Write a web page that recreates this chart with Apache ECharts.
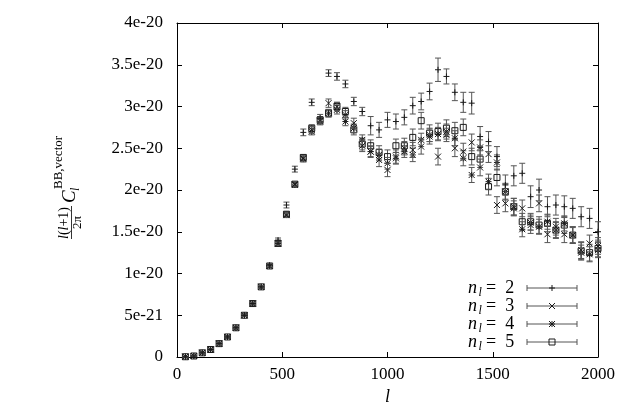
<!DOCTYPE html>
<html>
<head>
<meta charset="utf-8">
<script src="https://cdn.jsdelivr.net/npm/echarts@6/dist/echarts.min.js"></script>
<style>html,body{margin:0;padding:0;background:#fff;}#chart{width:627px;height:417px;}</style>
</head>
<body>
<div id="chart"></div>
<script>
// multipole bins
const ells = [40,80,120,160,200,240,280,320,360,400,440,480,520,560,600,640,680,720,760,800,840,880,920,960,1000,1040,1080,1120,1160,1200,1240,1280,1320,1360,1400,1440,1480,1520,1560,1600,1640,1680,1720,1760,1800,1840,1880,1920,1960,2000];
// values in units of 1e-20
const n2Vals = [0.003,0.012,0.05,0.09,0.16,0.24,0.35,0.50,0.64,0.84,1.10,1.40,1.82,2.25,2.69,3.05,2.86,3.40,3.36,3.27,3.06,2.94,2.77,2.72,2.84,2.82,2.87,3.01,3.06,3.18,3.44,3.36,3.17,3.05,3.04,2.64,2.58,2.40,2.06,2.17,2.20,1.92,2.00,1.80,1.82,1.80,1.78,1.68,1.66,1.50];
const n2Errs = [0.003,0.004,0.005,0.006,0.008,0.01,0.01,0.012,0.014,0.016,0.02,0.025,0.035,0.035,0.04,0.04,0.045,0.04,0.045,0.045,0.05,0.05,0.11,0.09,0.09,0.09,0.09,0.1,0.1,0.1,0.14,0.09,0.1,0.12,0.13,0.12,0.12,0.12,0.12,0.12,0.12,0.13,0.13,0.12,0.12,0.13,0.12,0.12,0.12,0.12];
const n3Vals = [0.003,0.012,0.05,0.09,0.16,0.24,0.35,0.50,0.64,0.84,1.09,1.36,1.70,2.07,2.38,2.72,2.83,3.04,3.00,2.90,2.80,2.53,2.46,2.36,2.24,2.40,2.50,2.48,2.52,2.64,2.40,2.70,2.50,2.46,2.57,2.27,2.43,1.82,1.84,1.80,1.78,1.58,1.84,1.47,1.56,1.47,1.46,1.28,1.36,1.33];
const n3Errs = [0.003,0.004,0.005,0.006,0.008,0.01,0.01,0.012,0.014,0.016,0.02,0.025,0.03,0.03,0.035,0.04,0.04,0.05,0.05,0.05,0.06,0.07,0.07,0.08,0.08,0.08,0.08,0.09,0.09,0.09,0.1,0.09,0.1,0.1,0.1,0.1,0.1,0.1,0.1,0.1,0.1,0.1,0.1,0.1,0.1,0.1,0.1,0.1,0.1,0.1];
const n4Vals = [0.003,0.012,0.05,0.09,0.16,0.24,0.35,0.50,0.64,0.84,1.09,1.36,1.70,2.06,2.37,2.70,2.82,2.92,2.96,2.82,2.74,2.60,2.46,2.42,2.32,2.38,2.46,2.42,2.60,2.66,2.67,2.66,2.62,2.38,2.18,2.51,2.10,2.33,1.98,1.78,1.53,1.61,1.56,1.62,1.52,1.60,1.46,1.25,1.23,1.28];
const n4Errs = [0.003,0.004,0.005,0.006,0.008,0.01,0.01,0.012,0.014,0.016,0.02,0.025,0.03,0.03,0.035,0.04,0.04,0.045,0.05,0.05,0.05,0.06,0.06,0.07,0.07,0.07,0.07,0.08,0.08,0.08,0.08,0.08,0.09,0.09,0.09,0.09,0.09,0.09,0.09,0.09,0.09,0.09,0.09,0.09,0.09,0.09,0.09,0.09,0.09,0.09];
const n5Vals = [0.003,0.012,0.05,0.09,0.16,0.24,0.35,0.50,0.64,0.84,1.09,1.36,1.71,2.07,2.39,2.74,2.84,2.92,3.00,2.94,2.72,2.55,2.53,2.45,2.40,2.53,2.53,2.63,2.83,2.68,2.70,2.74,2.71,2.75,2.40,2.37,2.04,2.15,1.98,1.80,1.62,1.62,1.58,1.60,1.52,1.58,1.46,1.27,1.25,1.30];
const n5Errs = [0.003,0.004,0.005,0.006,0.008,0.01,0.01,0.012,0.014,0.016,0.02,0.025,0.03,0.03,0.035,0.04,0.04,0.045,0.05,0.05,0.06,0.07,0.07,0.08,0.08,0.08,0.09,0.1,0.1,0.1,0.1,0.1,0.1,0.1,0.1,0.1,0.1,0.1,0.1,0.1,0.1,0.1,0.1,0.1,0.1,0.1,0.1,0.1,0.1,0.1];
const seriesNames = ['n_l = 2','n_l = 3','n_l = 4','n_l = 5'];
const legendNums = ['2','3','4','5'];
const markerKinds = ['plus','cross','star','square'];
const yTickLabels = ['0','5e-21','1e-20','1.5e-20','2e-20','2.5e-20','3e-20','3.5e-20','4e-20'];
const xTickLabels = ['0','500','1000','1500','2000'];

const serifName = 'Liberation Serif';
const errColor = '#555';
const mkColor = '#1a1a1a';

function markerShapes(kind, cx, cy, s) {
  const out = [];
  const seg = (x1,y1,x2,y2) => out.push({type:'line', shape:{x1,y1,x2,y2}, style:{stroke:mkColor, lineWidth:1}});
  if (kind === 'plus' || kind === 'star') { seg(cx-s,cy,cx+s,cy); seg(cx,cy-s,cx,cy+s); }
  if (kind === 'cross' || kind === 'star') { seg(cx-s,cy-s,cx+s,cy+s); seg(cx-s,cy+s,cx+s,cy-s); }
  if (kind === 'square') out.push({type:'rect', shape:{x:cx-s,y:cy-s,width:2*s,height:2*s}, style:{stroke:mkColor, fill:'none', lineWidth:1}});
  return out;
}

function makeRender(kind) {
  return function(params, api) {
    const x = api.value(0), y = api.value(1), e = api.value(2);
    const p = api.coord([x, y]);
    const t = api.coord([x, y + e]);
    const b = api.coord([x, y - e]);
    const cap = 3;
    const ch = [
      {type:'line', shape:{x1:p[0],y1:t[1],x2:p[0],y2:b[1]}, style:{stroke:errColor,lineWidth:1}},
      {type:'line', shape:{x1:p[0]-cap,y1:t[1],x2:p[0]+cap,y2:t[1]}, style:{stroke:errColor,lineWidth:1}},
      {type:'line', shape:{x1:p[0]-cap,y1:b[1],x2:p[0]+cap,y2:b[1]}, style:{stroke:errColor,lineWidth:1}}
    ].concat(markerShapes(kind, p[0], p[1], 3));
    return {type:'group', children: ch};
  };
}

const allVals = [n2Vals, n3Vals, n4Vals, n5Vals];
const allErrs = [n2Errs, n3Errs, n4Errs, n5Errs];

const series = allVals.map((vals, k) => ({
  type: 'custom',
  name: seriesNames[k],
  renderItem: makeRender(markerKinds[k]),
  data: ells.map((l, i) => [l, vals[i], allErrs[k][i]]),
  encode: {x: 0, y: 1},
  clip: false,
  z: 10 - k
}));

function txt(x, y, text, size, italic, align) {
  return {type:'text', x:x, y:y, style:{text:text, fontFamily:serifName, fontSize:size, fontStyle: italic ? 'italic' : 'normal', fill:'#000', align: align || 'left', verticalAlign:'middle'}};
}

// legend graphics
const legendGraphics = [];
const rowY = [288, 306, 324, 342];
rowY.forEach((ry, k) => {
  legendGraphics.push(txt(468, ry, 'n', 18, true));
  legendGraphics.push(txt(478.5, ry + 5, 'l', 12, true));
  legendGraphics.push(txt(486, ry, '=\u2002' + legendNums[k], 18, false));
  legendGraphics.push({type:'line', shape:{x1:527,y1:ry,x2:577,y2:ry}, style:{stroke:errColor,lineWidth:1}});
  legendGraphics.push({type:'line', shape:{x1:527,y1:ry-3,x2:527,y2:ry+3}, style:{stroke:errColor,lineWidth:1}});
  legendGraphics.push({type:'line', shape:{x1:577,y1:ry-3,x2:577,y2:ry+3}, style:{stroke:errColor,lineWidth:1}});
  markerShapes(markerKinds[k], 552, ry, 3).forEach(m => legendGraphics.push(m));
});

// y-axis title: l(l+1)/(2π) C_l^{BB,vector}, rotated
const yTitle = {
  type: 'group',
  x: 53, y: 239,
  rotation: Math.PI / 2,
  children: [
    {type:'text', x:16, y:11.5, style:{text:'{i|l}{r|(}{i|l}{r|+1)}', align:'center', verticalAlign:'middle', rich:{i:{fontFamily:serifName, fontStyle:'italic', fontSize:14, fill:'#000'}, r:{fontFamily:serifName, fontSize:14, fill:'#000'}}}},
    {type:'line', shape:{x1:0,y1:18.5,x2:33,y2:18.5}, style:{stroke:'#000', lineWidth:0.8}},
    txt(16.5, 25, '2π', 13, false, 'center'),
    txt(36, 17, 'C', 19, true),
    txt(48, 23, 'l', 12, true),
    txt(50, 6, 'BB,vector', 13, false)
  ]
};

const axisCommon = {
  type: 'value',
  axisLine: {show: true, onZero: false, lineStyle: {color: '#000', width: 1}},
  axisTick: {show: true, inside: true, length: 5, lineStyle: {color: '#000'}},
  splitLine: {show: false}
};

const option = {
  animation: false,
  backgroundColor: '#fff',
  grid: {left: 177, right: 29, top: 23, bottom: 60, containLabel: false},
  xAxis: [
    Object.assign({}, axisCommon, {
      min: 0, max: 2000, interval: 500, position: 'bottom',
      name: 'l', nameLocation: 'middle', nameGap: 27,
      nameTextStyle: {fontFamily: serifName, fontStyle: 'italic', fontSize: 18, color: '#000'},
      axisLabel: {show: true, margin: 9, fontFamily: serifName, fontSize: 17, color: '#000',
        formatter: (v, i) => xTickLabels[i] !== undefined ? xTickLabels[i] : ''}
    }),
    Object.assign({}, axisCommon, {min: 0, max: 2000, interval: 500, position: 'top', axisLabel: {show: false}})
  ],
  yAxis: [
    Object.assign({}, axisCommon, {
      min: 0, max: 4, interval: 0.5, position: 'left',
      axisLabel: {show: true, margin: 14, fontFamily: serifName, fontSize: 17, color: '#000',
        formatter: (v, i) => yTickLabels[i] !== undefined ? yTickLabels[i] : ''}
    }),
    Object.assign({}, axisCommon, {min: 0, max: 4, interval: 0.5, position: 'right', axisLabel: {show: false}})
  ],
  graphic: [yTitle].concat(legendGraphics),
  series: series
};

const chart = echarts.init(document.getElementById('chart'), null, {renderer: 'canvas'});
chart.setOption(option);
</script>
</body>
</html>
